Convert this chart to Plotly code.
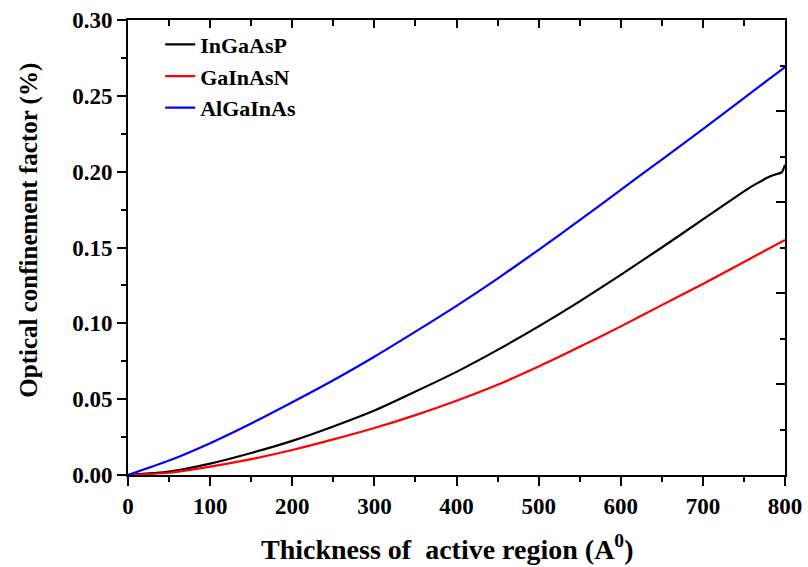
import plotly.graph_objects as go

# Thickness of active region (Angstrom)
thickness = [0, 50, 100, 150, 200, 250, 300, 350, 400, 450, 500, 550, 600, 650, 700, 750, 800]
thickness_ingaasp = [0, 50, 100, 150, 200, 250, 300, 350, 400, 450, 500, 550, 600, 650, 700, 750,
                     760, 770, 780, 790, 796, 800]

ingaasp = [0, 0.0022, 0.0075, 0.0145, 0.0225, 0.032, 0.0425, 0.055, 0.068, 0.0825, 0.098, 0.1145,
           0.132, 0.150, 0.1685, 0.187, 0.1905, 0.1935, 0.1965, 0.1985, 0.1995, 0.2045]
gainasn = [0, 0.0015, 0.0055, 0.0105, 0.0165, 0.0235, 0.031, 0.0395, 0.049, 0.0595, 0.0715, 0.0845,
           0.098, 0.112, 0.126, 0.1405, 0.155]
algainas = [0, 0.0095, 0.021, 0.034, 0.048, 0.0625, 0.078, 0.0945, 0.1115, 0.1295, 0.1485, 0.168,
            0.188, 0.208, 0.228, 0.2485, 0.269]

series_names = ["InGaAsP", "GaInAsN", "AlGaInAs"]
series_colors = ["black", "#FF0000", "#0000FF"]
x_title = "Thickness of  active region (A<sup>0</sup>)"
y_title = "Optical confinement factor (%)"

FONT = "Liberation Serif"

fig = go.Figure()
fig.add_trace(go.Scatter(x=thickness_ingaasp, y=ingaasp, mode="lines", name=series_names[0],
                         line=dict(color=series_colors[0], width=2.2, shape="spline", smoothing=0.6), legendgroup="a"))
fig.add_trace(go.Scatter(x=thickness, y=gainasn, mode="lines", name=series_names[1],
                         line=dict(color=series_colors[1], width=2.2, shape="spline", smoothing=0.6), legendgroup="b"))
fig.add_trace(go.Scatter(x=thickness, y=algainas, mode="lines", name=series_names[2],
                         line=dict(color=series_colors[2], width=2.2, shape="spline", smoothing=0.6), legendgroup="c",
                         xaxis="x2", yaxis="y2"))

tickfont = dict(family=FONT, size=23, color="black", weight="bold")

fig.update_layout(
    width=808, height=567,
    margin=dict(l=128, r=23, t=20, b=92, autoexpand=False),
    paper_bgcolor="white", plot_bgcolor="white",
    font=dict(family=FONT, color="black"),
    showlegend=True,
    legend=dict(x=0.049, y=0.992, xanchor="left", yanchor="top",
                bgcolor="rgba(0,0,0,0)", borderwidth=0,
                font=dict(family=FONT, size=22, color="black", weight="bold"),
                tracegroupgap=0),
    xaxis=dict(range=[0, 800], dtick=100, tick0=0, ticks="outside", ticklen=9, tickwidth=2,
               tickcolor="black", showline=True, linecolor="black", linewidth=2, automargin=False,
               showgrid=False, zeroline=False, tickfont=tickfont,
               minor=dict(dtick=50, ticks="outside", ticklen=5, tickwidth=2, tickcolor="black", showgrid=False)),
    yaxis=dict(range=[0, 0.30], dtick=0.05, tick0=0, tickformat=".2f", ticks="outside", ticklen=9, tickwidth=2,
               tickcolor="black", showline=True, linecolor="black", linewidth=2, automargin=False,
               showgrid=False, zeroline=False, tickfont=tickfont,
               minor=dict(dtick=0.025, ticks="outside", ticklen=5, tickwidth=2, tickcolor="black", showgrid=False)),
    xaxis2=dict(range=[0, 800], overlaying="x", side="top", dtick=100, tick0=0, ticks="inside",
                ticklen=8, tickwidth=2, tickcolor="black", showticklabels=False, automargin=False,
                showline=True, linecolor="black", linewidth=2, showgrid=False, zeroline=False,
                minor=dict(dtick=50, ticks="inside", ticklen=6, tickwidth=2, tickcolor="black", showgrid=False)),
    yaxis2=dict(range=[0, 0.30], overlaying="y", side="right", dtick=0.06, tick0=0, ticks="inside",
                ticklen=9, tickwidth=2, tickcolor="black", showticklabels=False, automargin=False,
                showline=True, linecolor="black", linewidth=2, showgrid=False, zeroline=False,
                minor=dict(dtick=0.03, ticks="inside", ticklen=5, tickwidth=2, tickcolor="black", showgrid=False)),
    annotations=[
        dict(text=x_title, xref="paper", yref="paper", x=0.4863, y=-0.1604,
             xanchor="center", yanchor="middle", showarrow=False,
             font=dict(family=FONT, size=28, color="black", weight="bold")),
        dict(text=y_title, xref="paper", yref="paper", x=-0.150, y=0.538, textangle=-90,
             xanchor="center", yanchor="middle", showarrow=False,
             font=dict(family=FONT, size=25, color="black", weight="bold")),
    ],
)

fig.write_html("out.html")
